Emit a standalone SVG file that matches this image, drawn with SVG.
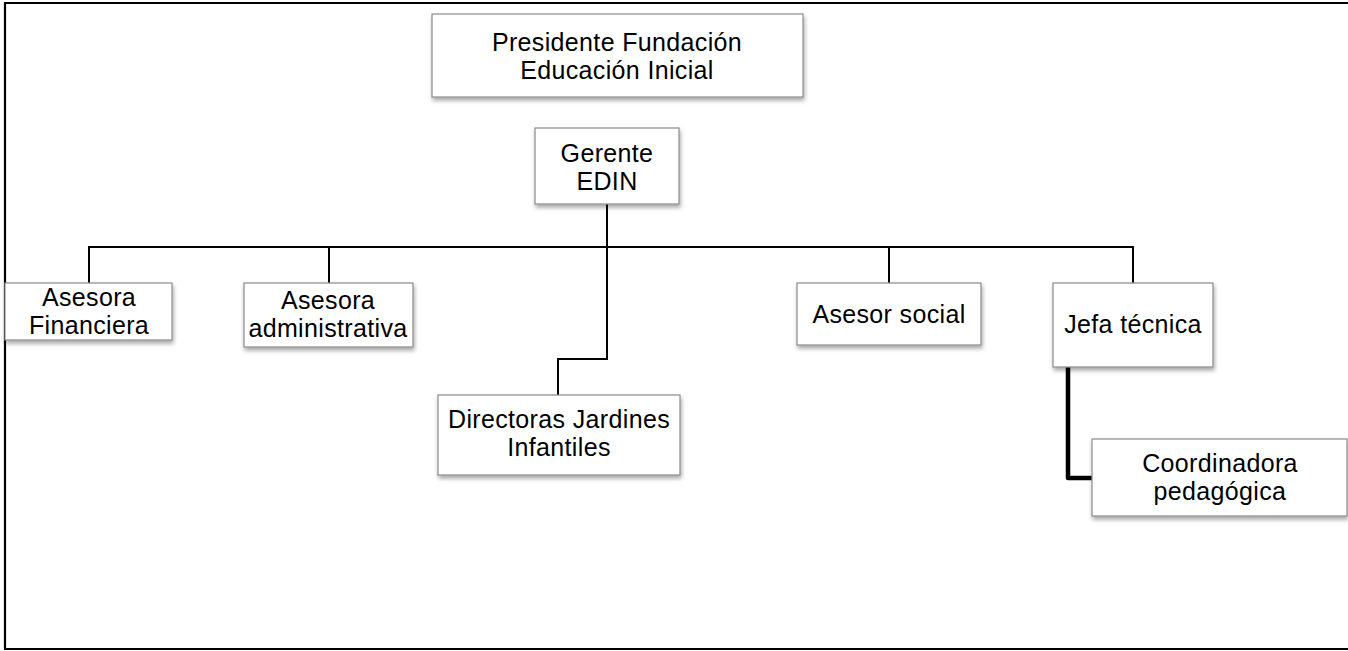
<svg xmlns="http://www.w3.org/2000/svg" width="1348" height="651" viewBox="0 0 1348 651">
<style>
.box{fill:#fff;stroke:#8a8a8a;stroke-width:1.2;filter:url(#sh)}
.t{font-family:"Liberation Sans",Arial,sans-serif;font-size:25px;letter-spacing:0.35px;fill:#000;text-anchor:middle}
.ln{fill:none;stroke:#000;stroke-width:2}
.thick{fill:none;stroke:#000;stroke-width:4.5;stroke-linejoin:round}
</style>
<defs>
<filter id="sh" x="-10%" y="-20%" width="125%" height="150%">
<feDropShadow dx="1" dy="3" stdDeviation="2" flood-color="#000" flood-opacity="0.35"/>
</filter>
</defs>
<rect x="0" y="0" width="1348" height="651" fill="#fff"/>
<path d="M1350 3 H5 V649 H1350" fill="none" stroke="#000" stroke-width="2.2"/>
<g id="connectors">
<path class="ln" d="M607 204 V359 H558 V395"/>
<path class="ln" d="M89 283 V247 H1133 V283"/>
<path class="ln" d="M329 247 V283"/>
<path class="ln" d="M889 247 V283"/>
<path class="thick" d="M1068 367 V478 H1092"/>
</g>
<g id="presidente">
<rect class="box" x="432" y="14" width="371" height="83"/>
<text class="t" x="617" y="51">Presidente Fundación<tspan x="617" dy="28">Educación Inicial</tspan></text>
</g>
<g id="gerente">
<rect class="box" x="535" y="128" width="144" height="76"/>
<text class="t" x="607" y="162">Gerente<tspan x="607" dy="28">EDIN</tspan></text>
</g>
<g id="asesora-financiera">
<rect class="box" x="5" y="283" width="167" height="57"/>
<text class="t" x="89" y="306">Asesora<tspan x="89" dy="28">Financiera</tspan></text>
</g>
<g id="asesora-administrativa">
<rect class="box" x="244" y="283" width="169" height="64"/>
<text class="t" x="328" y="309">Asesora<tspan x="328" dy="28">administrativa</tspan></text>
</g>
<g id="directoras">
<rect class="box" x="438" y="395" width="242" height="80"/>
<text class="t" x="559" y="428">Directoras Jardines<tspan x="559" dy="28">Infantiles</tspan></text>
</g>
<g id="asesor-social">
<rect class="box" x="797" y="283" width="184" height="62"/>
<text class="t" x="889" y="323">Asesor social</text>
</g>
<g id="jefa-tecnica">
<rect class="box" x="1053" y="283" width="160" height="84"/>
<text class="t" x="1133" y="333">Jefa técnica</text>
</g>
<g id="coordinadora">
<rect class="box" x="1092" y="439" width="255" height="77"/>
<text class="t" x="1220" y="472">Coordinadora<tspan x="1220" dy="28">pedagógica</tspan></text>
</g>
</svg>
